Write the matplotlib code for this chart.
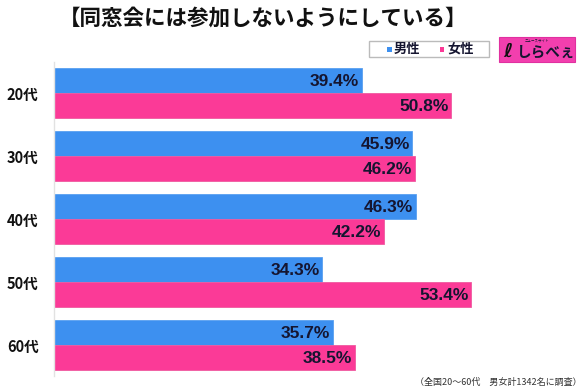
import matplotlib.pyplot as plt
from matplotlib.patches import Rectangle
from matplotlib import font_manager

plt.rcParams['font.family'] = ['Noto Sans CJK JP', 'DejaVu Sans']

# data
ages = ['20代', '30代', '40代', '50代', '60代']
male = [39.4, 45.9, 46.3, 34.3, 35.7]
female = [50.8, 46.2, 42.2, 53.4, 38.5]

title = '【同窓会には参加しないようにしている】'
note = '（全国20～60代　男女計1342名に調査）'

blue = '#3d90f0'
pink = '#fb3a97'
ink = '#151530'

# narrow bold face for the value labels, if present
names = {f.name for f in font_manager.fontManager.ttflist}
num_font = 'Liberation Sans Narrow' if 'Liberation Sans Narrow' in names else 'Liberation Sans'
num_size = 14 if num_font == 'Liberation Sans Narrow' else 12.5

W, H = 586, 391
fig = plt.figure(figsize=(W / 100, H / 100), dpi=100)

# axes placed in pixel terms
left, right, top, bottom = 54, 586, 62, 376
ax = fig.add_axes([left / W, (H - bottom) / H, (right - left) / W, (bottom - top) / H])

px_per_pct = 7.81
ax.set_xlim(0, (right - left) / px_per_pct)
ax.set_ylim((bottom - 93) / 63, -(93 - top) / 63)

h = 25 / 63
pos = list(range(len(ages)))
ax.barh([p - h / 2 for p in pos], male, height=h, color=blue, edgecolor='#5aa0f0', linewidth=0.6)
ax.barh([p + h / 2 for p in pos], female, height=h, color=pink, edgecolor='#f05aa0', linewidth=0.6)

for p, m, f in zip(pos, male, female):
    ax.text(m - 0.3, p - h / 2 + 0.02, f'{m:.1f}%', ha='right', va='center',
            fontsize=num_size, fontweight='bold', color=ink, family=num_font)
    ax.text(f - 0.3, p + h / 2 + 0.02, f'{f:.1f}%', ha='right', va='center',
            fontsize=num_size, fontweight='bold', color=ink, family=num_font)

ax.set_yticks(pos)
ax.set_yticklabels(ages, fontsize=10.5, fontweight='bold', color='#111111')
ax.tick_params(axis='y', length=0, pad=11)
ax.set_xticks([])
for s in ['top', 'right', 'bottom']:
    ax.spines[s].set_visible(False)
ax.spines['left'].set_color('#e2e2e2')
ax.spines['left'].set_linewidth(1)

# title
fig.text(263 / W, 1 - 18 / H, title, ha='center', va='center',
         fontsize=15.5, fontweight='bold', color='#111111')

# legend box
fig.patches.append(Rectangle((369 / W, 1 - 57 / H), 120 / W, 16 / H, transform=fig.transFigure,
                             facecolor='white', edgecolor='#bbbbbb', linewidth=1))
fig.patches.append(Rectangle((387 / W, 1 - 51.5 / H), 4.5 / W, 4.5 / H, transform=fig.transFigure,
                             facecolor=blue, edgecolor='none'))
fig.text(394 / W, 1 - 49 / H, '男性', ha='left', va='center', fontsize=9.5,
         fontweight='bold', color=ink)
fig.patches.append(Rectangle((440 / W, 1 - 51.5 / H), 4.5 / W, 4.5 / H, transform=fig.transFigure,
                             facecolor=pink, edgecolor='none'))
fig.text(447 / W, 1 - 49 / H, '女性', ha='left', va='center', fontsize=9.5,
         fontweight='bold', color=ink)

# logo
fig.patches.append(Rectangle((499 / W, 1 - 62 / H), 76 / W, 25 / H, transform=fig.transFigure,
                             facecolor='#f23fae', edgecolor='#e030a0', linewidth=0.8))
fig.text(537 / W, 1 - 40.5 / H, 'ニュースサイト', ha='center', va='center', fontsize=2.5, color=ink)
fig.text(503 / W, 1 - 51 / H, 'ℓ', ha='left', va='center', fontsize=14,
         fontweight='bold', color='#111111', family='DejaVu Sans')
fig.text(517 / W, 1 - 52 / H, 'しらべぇ', ha='left', va='center', fontsize=10.5,
         fontweight='bold', color=ink)

# footnote
fig.text(582 / W, 1 - 382 / H, note, ha='right', va='center', fontsize=6.5, color='#333333')

fig.savefig('out.png', dpi=100, facecolor='white')
